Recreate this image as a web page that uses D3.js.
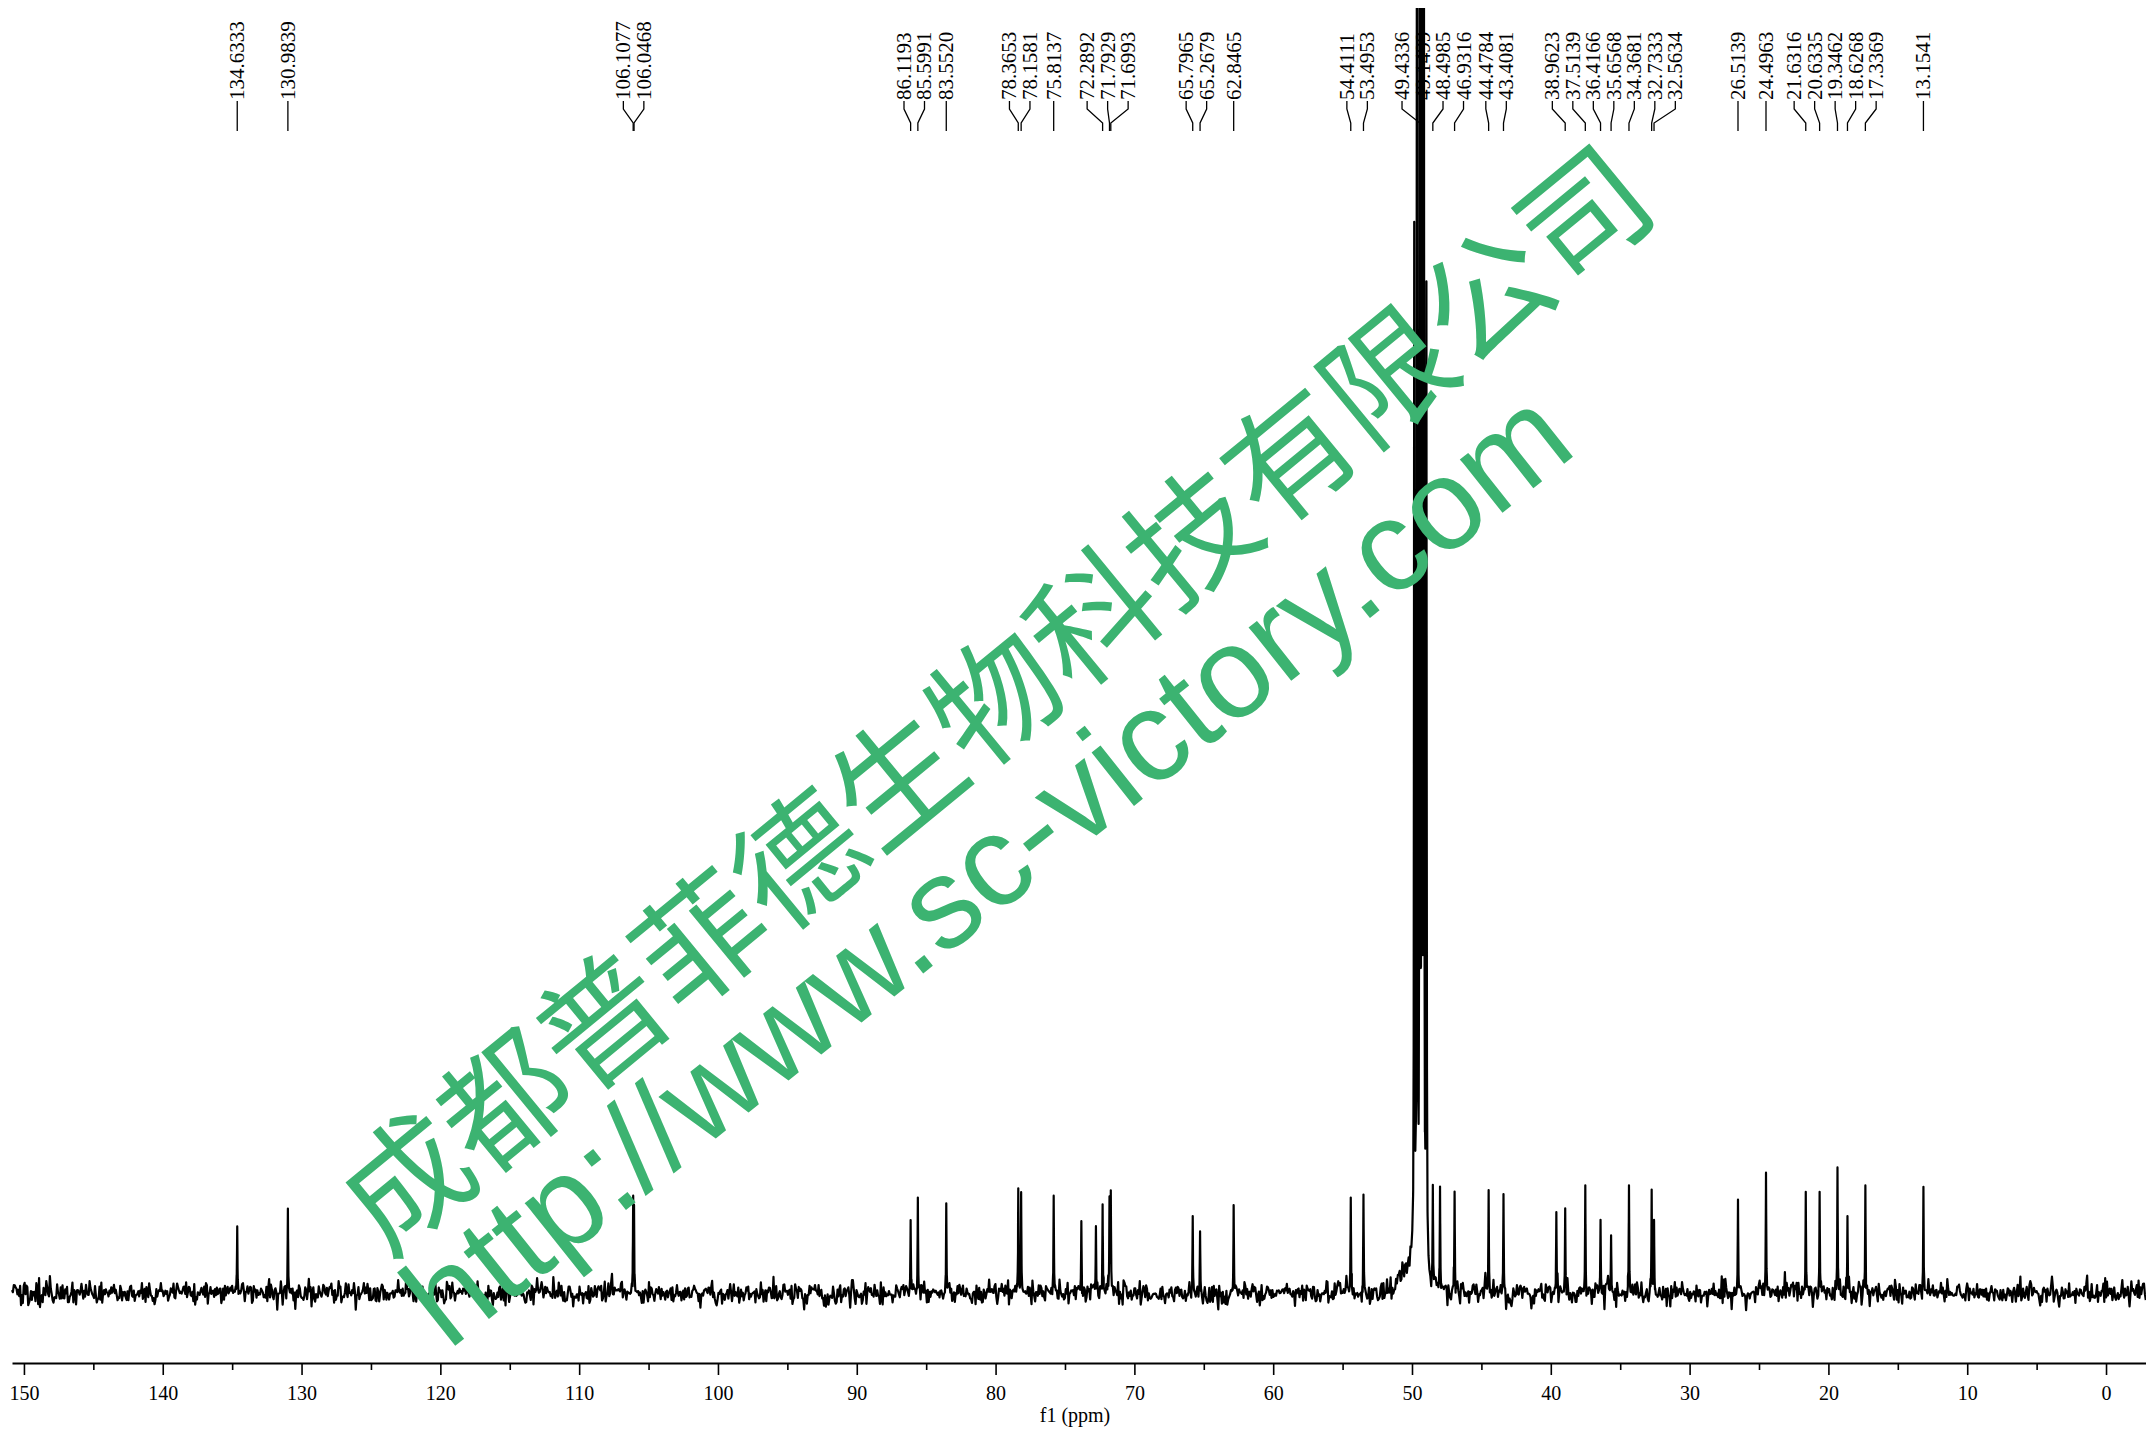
<!DOCTYPE html>
<html>
<head>
<meta charset="utf-8">
<script src="https://cdn.jsdelivr.net/npm/d3@7"></script>
<style>
  html, body { margin: 0; background: #fff; }
</style>
</head>
<body>
<svg id="chart" width="2146" height="1430"></svg>
<script>
// shifts printed above the spectrum (ppm)
const labelPpm = [134.6333, 130.9839, 106.1077, 106.0468, 86.1193, 85.5991, 83.5520,
  78.3653, 78.1581, 75.8137, 72.2892, 71.7929, 71.6993, 65.7965, 65.2679, 62.8465,
  54.4111, 53.4953, 49.4336, 49.1499, 48.4985, 46.9316, 44.4784, 43.4081,
  38.9623, 37.5139, 36.4166, 35.6568, 34.3681, 32.7333, 32.5634,
  26.5139, 24.4963, 21.6316, 20.6335, 19.3462, 18.6268, 17.3369, 13.1541];

// sharp lines in the spectrum (ppm) and their heights (relative intensity)
const linePpm = [134.6333, 130.9839, 106.1077, 106.0468, 86.1193, 85.5991, 83.5520,
  78.3653, 78.1581, 75.8137, 73.82, 72.77, 72.2892, 71.7929, 71.6993, 65.7965, 65.2679, 62.8465,
  54.4111, 53.4953, 48.4985, 47.98, 46.9316, 44.4784, 43.4081,
  39.60, 38.9623, 37.5139, 36.4166, 35.6568, 34.3681, 32.7333, 32.5634,
  26.5139, 24.4963, 21.6316, 20.6335, 19.3462, 18.6268, 17.3369, 13.1541];
const lineHeight = [5.2, 6.6, 7.0, 6.2, 5.5, 7.3, 7.0,
  8.1, 7.8, 7.6, 5.6, 5.2, 6.9, 7.2, 7.7, 6.0, 4.8, 6.7,
  7.4, 7.6, 7.7, 8.0, 7.8, 8.0, 7.7,
  6.3, 6.6, 8.4, 5.7, 4.5, 8.4, 8.0, 5.6,
  7.3, 9.4, 7.9, 7.9, 9.8, 6.0, 8.4, 8.3];

// solvent multiplet (CD3OD), runs off the top of the plot
const solventPpm = [49.84, 49.64, 49.4336, 49.29, 49.1499, 48.96];
const solventHeight = [80, 150, 150, 150, 150, 76];

// broad foot under the solvent
const humpPpm = [50.2];
const humpHeight = [2.0];
const humpWidth = [0.6];

const ppmTicks = d3.range(0, 151, 10);
const ppmMinorTicks = d3.range(5, 151, 10);

const width = 2146, height = 1430;
const svg = d3.select('#chart');

const x = d3.scaleLinear().domain([150.86, -2.88]).range([12, width]);
const y = d3.scaleLinear().domain([0, 100]).range([1293, 13]);

// lorentzian line shape
const lineHw = 0.02;
function lor(p, c, h, w) { return h * w * w / (w * w + (p - c) * (p - c)); }

const lines = linePpm.map((p, i) => ({ p, h: lineHeight[i] }))
  .concat(solventPpm.map((p, i) => ({ p, h: solventHeight[i] })));

function intensity(p) {
  let s = 0;
  lines.forEach(l => { s += lor(p, l.p, l.h, lineHw); });
  humpPpm.forEach((c, i) => { s += lor(p, c, humpHeight[i], humpWidth[i]); });
  return s;
}

// baseline noise (seeded so the picture is stable)
const noise = d3.randomNormal.source(d3.randomLcg(0.2718))(0, 0.44);
const pts = [];
for (let p = x.domain()[0]; p >= x.domain()[1]; p -= 0.065) pts.push({ p, n: noise() });
lines.forEach(l => [-0.08, -0.04, -0.015, 0, 0.015, 0.04, 0.08]
  .forEach(o => pts.push({ p: l.p + o, n: 0 })));
pts.sort((a, b) => b.p - a.p);

svg.append('clipPath').attr('id', 'plotclip')
  .append('rect').attr('x', 0).attr('y', 8).attr('width', width).attr('height', 1340);

svg.append('path')
  .datum(pts)
  .attr('clip-path', 'url(#plotclip)')
  .attr('fill', 'none')
  .attr('stroke', '#000')
  .attr('stroke-width', 2.2)
  .attr('stroke-linejoin', 'round')
  .attr('d', d3.line().x(d => x(d.p)).y(d => y(intensity(d.p) + d.n)));

// axis
const axisY = 1363;
const gx = svg.append('g').attr('transform', `translate(0,${axisY})`)
  .call(d3.axisBottom(x).tickValues(ppmTicks).tickFormat(d3.format('d'))
    .tickSize(12).tickSizeOuter(0).tickPadding(11));
gx.select('.domain').attr('stroke-width', 2.2);
gx.selectAll('.tick line').attr('stroke-width', 1.6);
gx.selectAll('.tick text').attr('font-family', '"Liberation Serif", serif')
  .attr('font-size', 20).attr('fill', '#000');

const gm = svg.append('g').attr('transform', `translate(0,${axisY})`)
  .call(d3.axisBottom(x).tickValues(ppmMinorTicks).tickFormat('').tickSize(7).tickSizeOuter(0));
gm.select('.domain').remove();
gm.selectAll('.tick line').attr('stroke-width', 1.6);

svg.append('text')
  .attr('x', 1075).attr('y', 1422)
  .attr('text-anchor', 'middle')
  .attr('font-family', '"Liberation Serif", serif')
  .attr('font-size', 20)
  .text('f1 (ppm)');

// peak labels, spread apart so they do not overlap
const gap = 20.5;
function spread(xs) {
  let groups = xs.map(v => ({ start: v, n: 1, sum: v }));
  let changed = true;
  while (changed) {
    changed = false;
    const out = [];
    groups.forEach(g => {
      const last = out[out.length - 1];
      if (last && last.start + last.n * gap > g.start + 0.01) {
        last.sum += g.sum; last.n += g.n;
        last.start = last.sum / last.n - (last.n - 1) * gap / 2;
        changed = true;
      } else out.push({ ...g });
    });
    groups = out;
  }
  const res = [];
  groups.forEach(g => { for (let k = 0; k < g.n; k++) res.push(g.start + k * gap); });
  return res;
}

const labels = labelPpm.map(p => ({ p, px: x(p) })).sort((a, b) => a.px - b.px);
const lx = spread(labels.map(d => d.px));
labels.forEach((d, i) => { d.lx = lx[i]; });

const gl = svg.append('g');
gl.selectAll('path').data(labels).join('path')
  .attr('fill', 'none').attr('stroke', '#000').attr('stroke-width', 1.3)
  .attr('d', d => `M${d.lx},101V109L${d.px},123V131`);
gl.selectAll('text').data(labels).join('text')
  .attr('transform', d => `translate(${d.lx},100) rotate(-90)`)
  .attr('dominant-baseline', 'central')
  .attr('font-family', '"Liberation Serif", serif')
  .attr('font-size', 21)
  .text(d => d3.format('.4f')(d.p));

// watermark
const wm = '#3cb371';
svg.append('text')
  .attr('transform', 'translate(990,692) rotate(-39.4)')
  .attr('text-anchor', 'middle').attr('dominant-baseline', 'central')
  .attr('font-family', '"Noto Sans CJK SC", sans-serif')
  .attr('font-size', 127).attr('fill', wm)
  .text('成都普菲德生物科技有限公司');
svg.append('text')
  .attr('transform', 'translate(986,866) rotate(-38.5)')
  .attr('text-anchor', 'middle').attr('dominant-baseline', 'central')
  .attr('font-family', '"Liberation Sans", Arial, sans-serif')
  .attr('font-size', 129).attr('fill', wm)
  .text('http://www.sc-victory.com');
</script>
</body>
</html>
